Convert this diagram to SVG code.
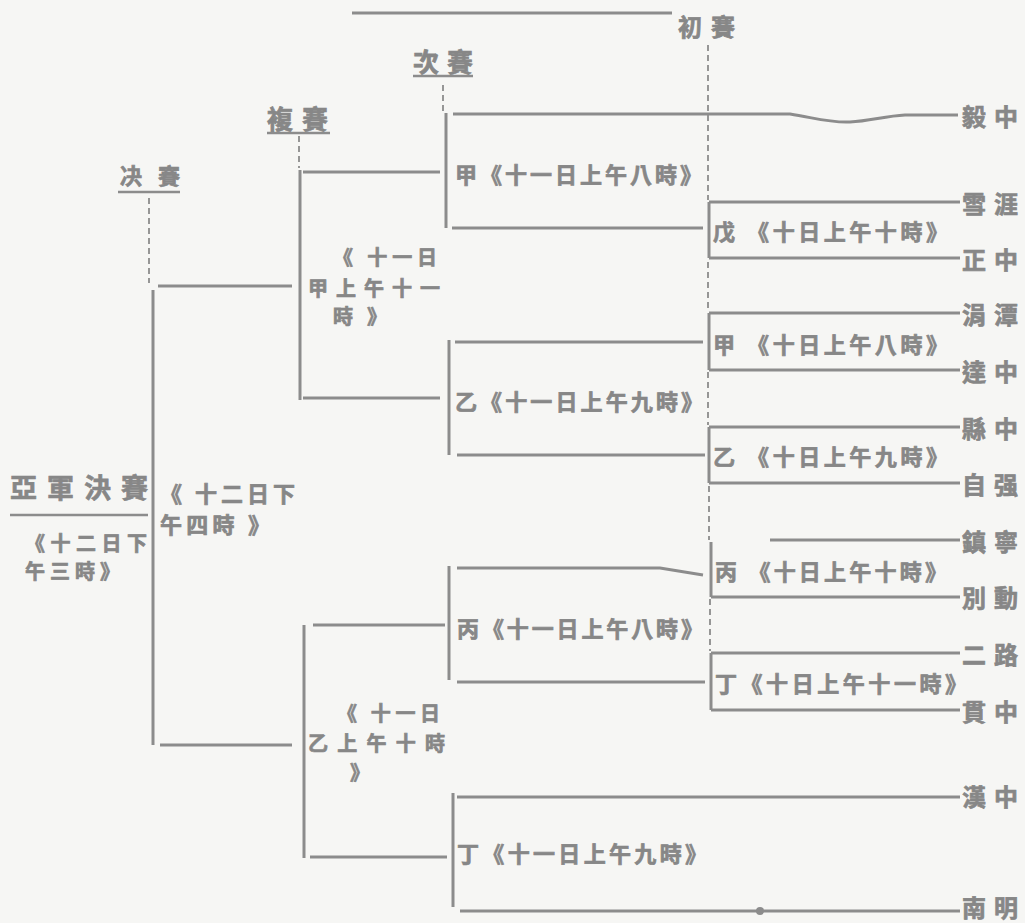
<svg xmlns="http://www.w3.org/2000/svg" width="1025" height="923" viewBox="0 0 1025 923">
<style>
.t{font-family:"Noto Sans CJK TC","Noto Sans CJK SC","Noto Sans CJK JP",sans-serif;font-weight:700;fill:#878787;stroke:#878787;stroke-width:0.7;dominant-baseline:central;lengthAdjust:spacing}
.s{font-size:22px}
.x{font-size:20px}
.m{font-size:24px}
.h{font-size:26px}
.ln{stroke:#8c8c8c;stroke-width:3;fill:none;stroke-linecap:butt}
.ul{stroke:#8c8c8c;stroke-width:2.5;fill:none}
.ds{stroke:#8c8c8c;stroke-width:1.8;fill:none;stroke-dasharray:6 4}
</style>
<rect width="1025" height="923" fill="#f6f6f4"/>

<g id="connectors">
  <path class="ln" d="M352 13 H672"/>
  <path class="ds" d="M149 198 V283"/>
  <path class="ds" d="M299 136 V168"/>
  <path class="ds" d="M443 85 V112"/>
  <path class="ds" d="M708 45 V200 M708 262 V310 M708 372 V425 M709 486 V540 M710 599 V651"/>
  <path class="ln" d="M153 290 V745"/>
  <path class="ln" d="M158 286 H292"/>
  <path class="ln" d="M160 745 H292"/>
  <path class="ln" d="M300 170 V400"/>
  <path class="ln" d="M303 172 H440"/>
  <path class="ln" d="M303 398 H440"/>
  <path class="ln" d="M304 625 V858"/>
  <path class="ln" d="M313 625 H445"/>
  <path class="ln" d="M310 857 H447"/>
  <path class="ln" d="M446 113 V228"/>
  <path class="ln" d="M453 114 L790 114 C815 118 830 123 850 122 C870 121 885 116 905 115 L958 115"/>
  <path class="ln" d="M452 228 H703"/>
  <path class="ln" d="M449 340 V455"/>
  <path class="ln" d="M455 342 H703"/>
  <path class="ln" d="M457 455 H705"/>
  <path class="ln" d="M449 566 V680"/>
  <path class="ln" d="M457 568 H660 L703 575"/>
  <path class="ln" d="M457 682 H705"/>
  <path class="ln" d="M453 793 V907"/>
  <path class="ln" d="M457 797 H960"/>
  <path class="ln" d="M460 911 H960"/>
  <circle cx="760" cy="911" r="4" fill="#8c8c8c"/>
  <path class="ln" d="M709 202 V258 M709 202 H960 M709 258 H960"/>
  <path class="ln" d="M709 313 V370 M709 313 H960 M709 370 H960"/>
  <path class="ln" d="M709 427 V483 M709 427 H960 M709 483 H960"/>
  <path class="ln" d="M711 542 V597 M770 540 H960 M711 597 H960"/>
  <path class="ln" d="M711 653 V710 M711 653 H960 M711 710 H960"/>
</g>

<g id="headers">
  <text class="t m" x="678" y="25" textLength="57">初賽</text>
  <text class="t h" x="413" y="60" textLength="60">次賽</text>
  <path class="ul" d="M413 76 H473"/>
  <text class="t h" x="267" y="117" textLength="61">複賽</text>
  <path class="ul" d="M267 133 H330"/>
  <text class="t s" x="120" y="174" textLength="60">决賽</text>
  <path class="ul" d="M118 192 H180"/>
</g>

<g id="champion-final">
  <text class="t" style="font-size:27px" x="10" y="486" textLength="138">亞軍決賽</text>
  <path class="ul" d="M10 515 H148"/>
  <text class="t x" x="25" y="542" textLength="122">《十二日下</text>
  <text class="t x" x="25" y="570" textLength="95">午三時》</text>
</g>

<g id="final">
  <text class="t s" x="160" y="492" textLength="135">《 十二日下</text>
  <text class="t s" x="160" y="523" textLength="110">午四時 》</text>
</g>

<g id="semi-jia">
  <text class="t x" x="333" y="256" textLength="104">《 十一日</text>
  <text class="t x" x="308" y="287" textLength="132">甲上午十一</text>
  <text class="t x" x="333" y="315" textLength="54">時 》</text>
</g>
<g id="semi-yi">
  <text class="t x" x="337" y="712" textLength="103">《 十一日</text>
  <text class="t x" x="308" y="742" textLength="137">乙上午十時</text>
  <text class="t x" x="350" y="771">》</text>
</g>

<g id="r2-jia"><text class="t s" x="455" y="173" textLength="247">甲《十一日上午八時》</text></g>
<g id="r2-yi"><text class="t s" x="455" y="400" textLength="248">乙《十一日上午九時》</text></g>
<g id="r2-bing"><text class="t s" x="457" y="627" textLength="246">丙《十一日上午八時》</text></g>
<g id="r2-ding"><text class="t s" x="457" y="852" textLength="250">丁《十一日上午九時》</text></g>

<g id="r1-wu"><text class="t s" x="713" y="230" textLength="235">戊 《十日上午十時》</text></g>
<g id="r1-jia"><text class="t s" x="713" y="343" textLength="235">甲 《十日上午八時》</text></g>
<g id="r1-yi"><text class="t s" x="713" y="455" textLength="235">乙 《十日上午九時》</text></g>
<g id="r1-bing"><text class="t s" x="715" y="570" textLength="232">丙 《十日上午十時》</text></g>
<g id="r1-ding"><text class="t s" x="715" y="682" textLength="252">丁《十日上午十一時》</text></g>

<g id="teams">
  <g id="team-1"><text class="t m" x="962" y="115" textLength="56">毅中</text></g>
  <g id="team-2"><text class="t m" x="962" y="202" textLength="56">雪涯</text></g>
  <g id="team-3"><text class="t m" x="962" y="258" textLength="56">正中</text></g>
  <g id="team-4"><text class="t m" x="962" y="313" textLength="56">涓潭</text></g>
  <g id="team-5"><text class="t m" x="962" y="370" textLength="56">達中</text></g>
  <g id="team-6"><text class="t m" x="962" y="427" textLength="56">縣中</text></g>
  <g id="team-7"><text class="t m" x="962" y="483" textLength="56">自强</text></g>
  <g id="team-8"><text class="t m" x="962" y="540" textLength="56">鎮寧</text></g>
  <g id="team-9"><text class="t m" x="962" y="596" textLength="56">別動</text></g>
  <g id="team-10"><text class="t m" x="962" y="653" textLength="56">二路</text></g>
  <g id="team-11"><text class="t m" x="962" y="710" textLength="56">貫中</text></g>
  <g id="team-12"><text class="t m" x="962" y="795" textLength="56">漢中</text></g>
  <g id="team-13"><text class="t m" x="962" y="906" textLength="56">南明</text></g>
</g>
</svg>
